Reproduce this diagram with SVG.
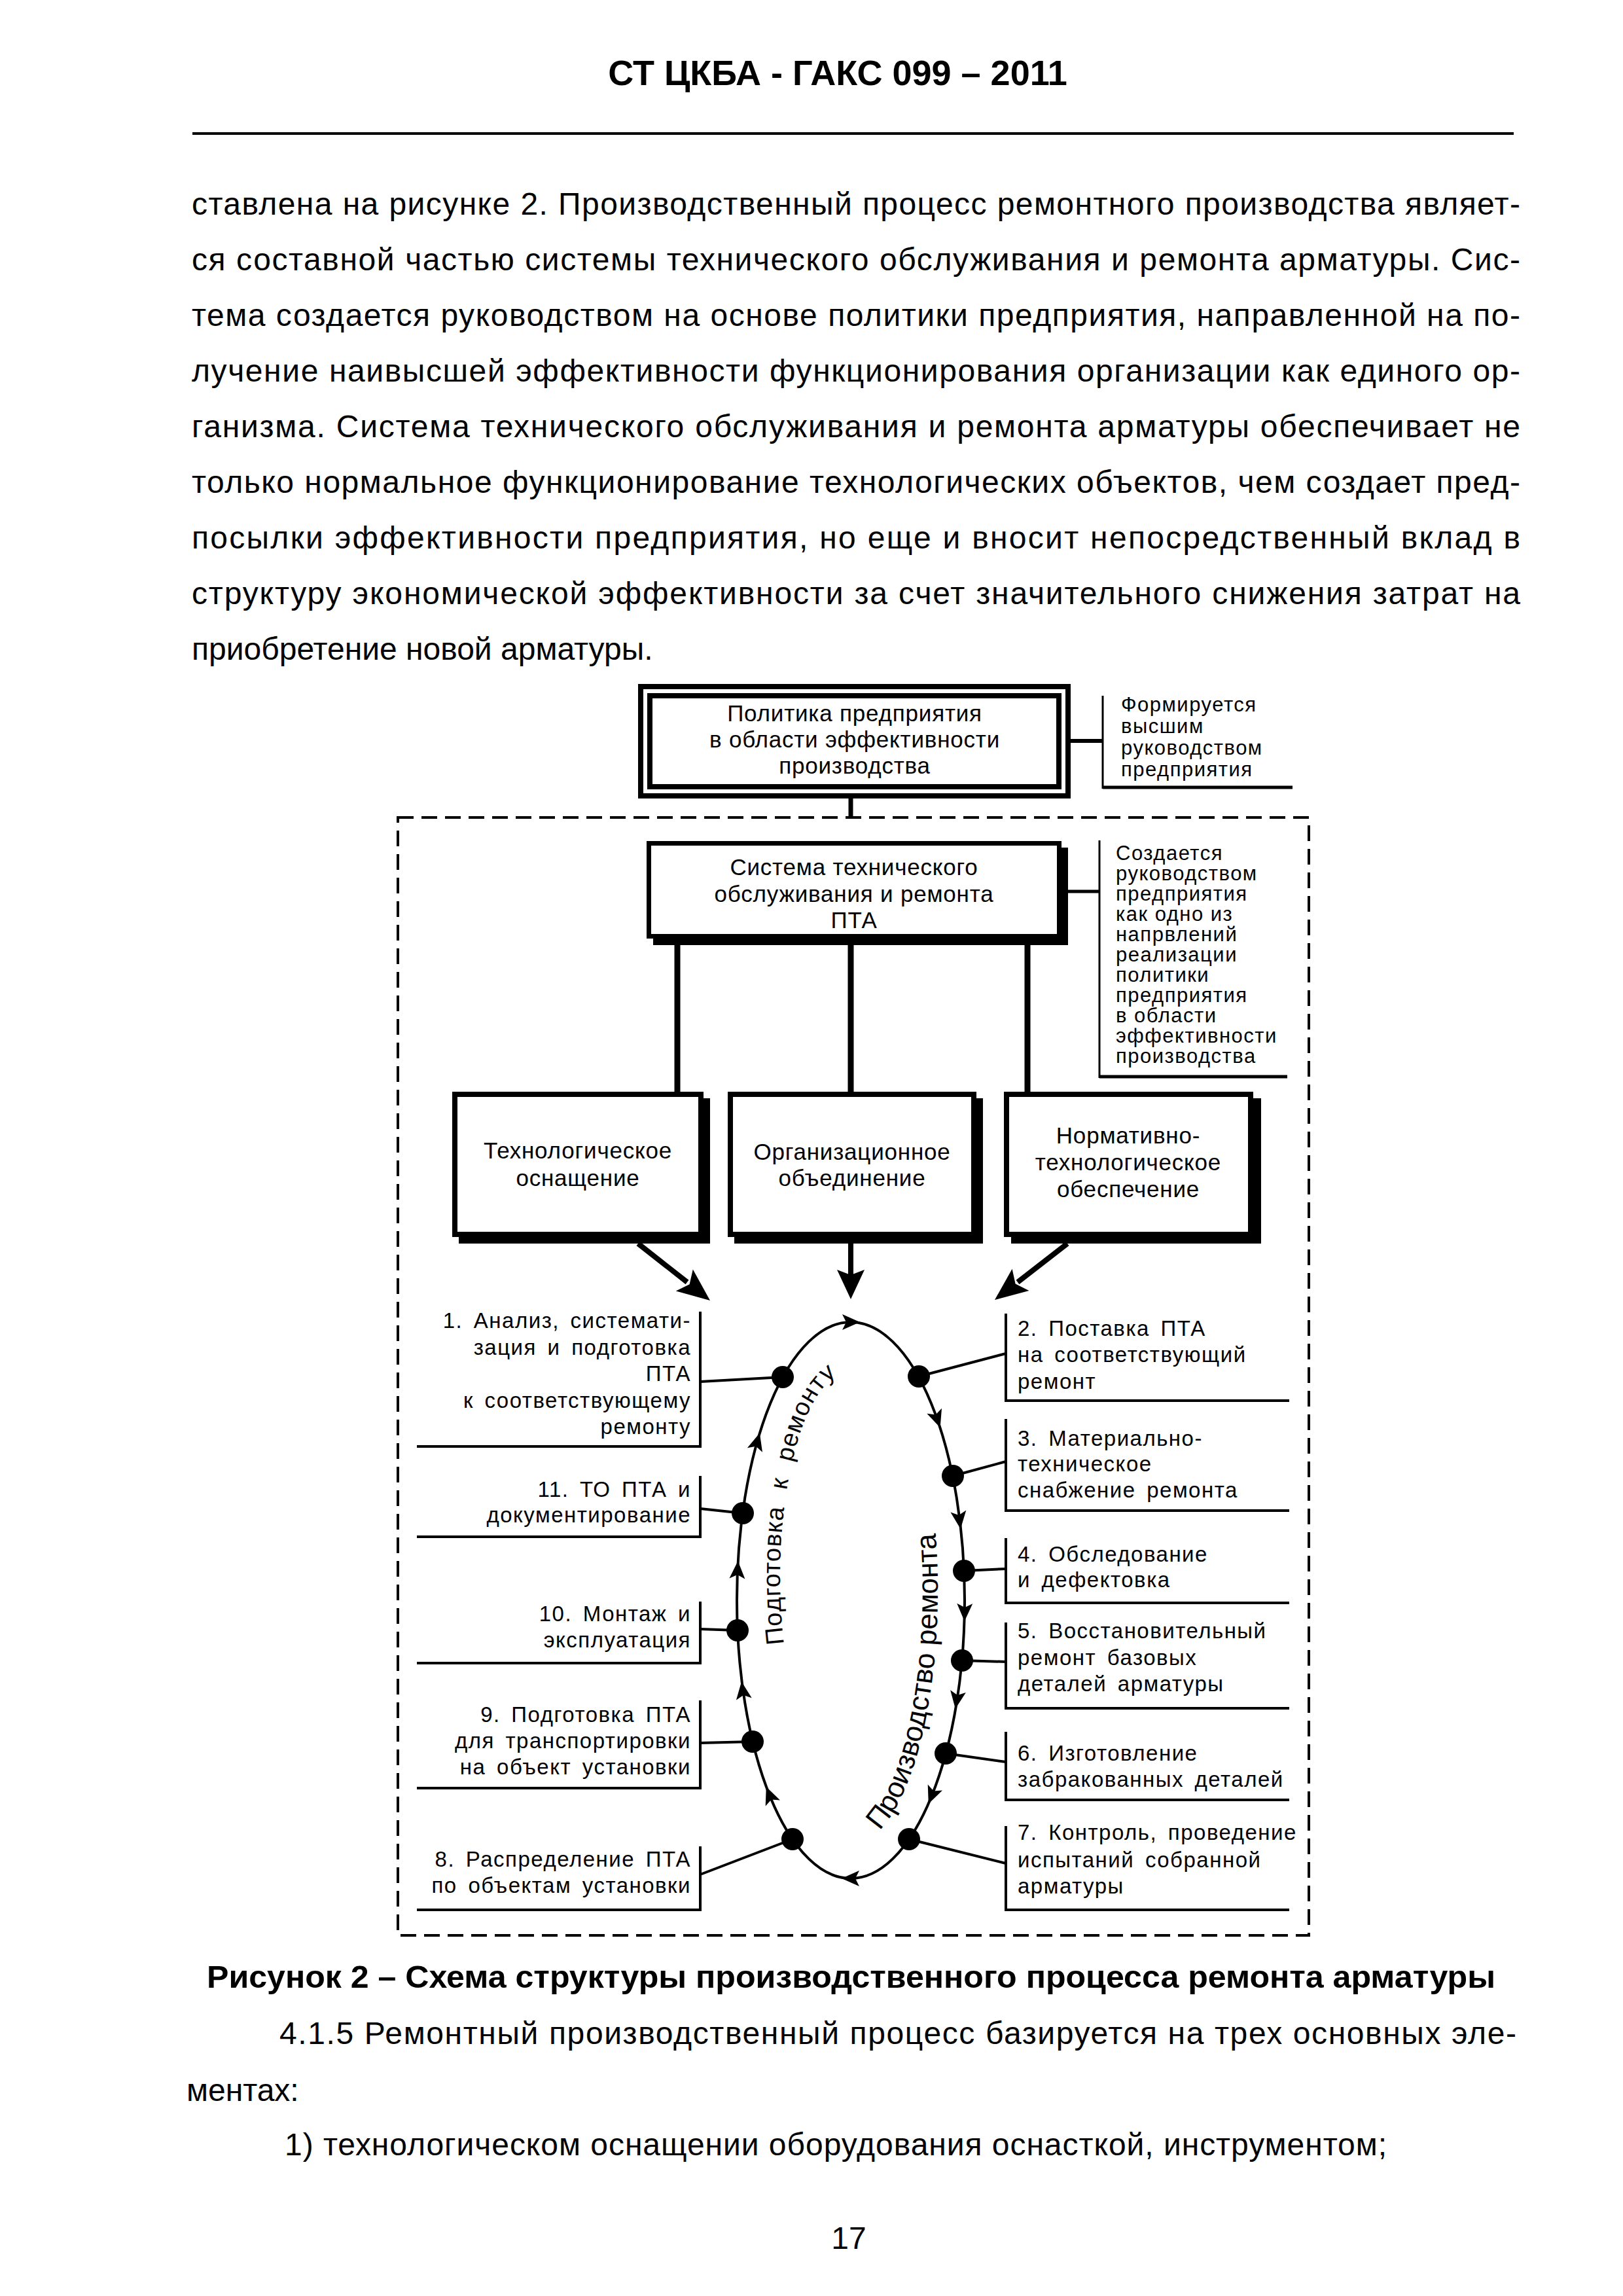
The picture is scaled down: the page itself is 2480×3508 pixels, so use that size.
<svg xmlns="http://www.w3.org/2000/svg" xmlns:xlink="http://www.w3.org/1999/xlink" width="2480" height="3508" viewBox="0 0 2480 3508">
<style>
text{font-family:"Liberation Sans",Arial,sans-serif;fill:#000}
.body{font-size:48px}
.bold{font-weight:bold}
.box{font-size:35px;text-anchor:middle;letter-spacing:0.8px}
.ann{font-size:31px;letter-spacing:1.5px}
.item{font-size:33px;letter-spacing:1.5px;word-spacing:6px}
.il{text-anchor:end}
.ln{stroke:#000;fill:none}
.bx{stroke:#000;fill:#fff}
.sh{fill:#000}
.frame{stroke:#000;stroke-width:4;fill:none}
.dot{fill:#000}
.ah{fill:#000}
</style>
<defs>
<path id="ahd" d="M14,0 L-13,-12 L-7,0 L-13,12 Z"/>
<path id="pathL" d="M1300,2725 A108,315 0 0,1 1300,2095"/>
<path id="pathR" d="M1300,2818 A133,388 0 0,0 1300,2042"/>
</defs>
<rect width="2480" height="3508" fill="#fff"/>

<g id="page-text">
<text class="bold" x="1280" y="130" font-size="54" text-anchor="middle">СТ ЦКБА - ГАКС 099 – 2011</text>
<line x1="294" y1="204" x2="2313" y2="204" stroke="#000" stroke-width="4"/>
<text class="body" x="293" y="328" textLength="2030" lengthAdjust="spacing">ставлена на рисунке 2. Производственный процесс ремонтного производства являет-</text>
<text class="body" x="293" y="413" textLength="2030" lengthAdjust="spacing">ся составной частью системы технического обслуживания  и ремонта арматуры. Сис-</text>
<text class="body" x="293" y="498" textLength="2030" lengthAdjust="spacing">тема создается руководством на основе политики предприятия, направленной на по-</text>
<text class="body" x="293" y="583" textLength="2030" lengthAdjust="spacing">лучение наивысшей эффективности функционирования организации как единого ор-</text>
<text class="body" x="293" y="668" textLength="2030" lengthAdjust="spacing">ганизма. Система технического обслуживания  и ремонта арматуры обеспечивает не</text>
<text class="body" x="293" y="753" textLength="2030" lengthAdjust="spacing">только нормальное функционирование технологических объектов, чем создает пред-</text>
<text class="body" x="293" y="838" textLength="2030" lengthAdjust="spacing">посылки эффективности предприятия, но еще и вносит непосредственный вклад в</text>
<text class="body" x="293" y="923" textLength="2030" lengthAdjust="spacing">структуру экономической эффективности за счет значительного снижения затрат на</text>
<text class="body" x="293" y="1008">приобретение новой арматуры.</text>
<text class="body bold" x="316" y="3037" textLength="1969" lengthAdjust="spacingAndGlyphs">Рисунок 2 – Схема структуры производственного процесса ремонта арматуры</text>
<text class="body" x="427" y="3123" textLength="1890" lengthAdjust="spacing">4.1.5 Ремонтный производственный процесс базируется на трех основных эле-</text>
<text class="body" x="285" y="3210">ментах:</text>
<text class="body" x="435" y="3293" textLength="1684" lengthAdjust="spacing">1) технологическом оснащении оборудования оснасткой, инструментом;</text>
<text class="body" x="1297" y="3436" text-anchor="middle">17</text>
</g>

<g id="connectors">
<rect x="608" y="1249" width="1392" height="1708" class="ln" stroke-width="4" stroke-dasharray="24 12"/>
<line x1="1300" y1="1220" x2="1300" y2="1249" class="ln" stroke-width="7"/>
<line x1="1636" y1="1132" x2="1685" y2="1132" class="ln" stroke-width="6"/>
<line x1="1632" y1="1362" x2="1680" y2="1362" class="ln" stroke-width="5"/>
<line x1="1035" y1="1444" x2="1035" y2="1668" class="ln" stroke-width="9"/>
<line x1="1300" y1="1444" x2="1300" y2="1668" class="ln" stroke-width="9"/>
<line x1="1570" y1="1444" x2="1570" y2="1668" class="ln" stroke-width="9"/>
<line x1="975" y1="1900" x2="1050" y2="1959" class="ln" stroke-width="8"/>
<polygon class="ah" points="1085,1987 1032.8,1972.5 1053.6,1962.2 1058.8,1939.5"/>
<line x1="1300" y1="1900" x2="1300" y2="1950" class="ln" stroke-width="8"/>
<polygon class="ah" points="1300,1985 1279,1940 1300,1948 1321,1940"/>
<line x1="1631" y1="1900" x2="1555" y2="1959" class="ln" stroke-width="8"/>
<polygon class="ah" points="1520,1986 1546.6,1938.8 1551.6,1961.5 1572.4,1972"/>
<ellipse cx="1300" cy="2445" rx="174" ry="425" class="ln" stroke-width="4"/>
<use xlink:href="#ahd" transform="translate(1300,2020) rotate(0)"/>
<use xlink:href="#ahd" transform="translate(1432,2168) rotate(70.6)"/>
<use xlink:href="#ahd" transform="translate(1466,2322) rotate(82.9)"/>
<use xlink:href="#ahd" transform="translate(1474,2463) rotate(91)"/>
<use xlink:href="#ahd" transform="translate(1462,2597) rotate(98.9)"/>
<use xlink:href="#ahd" transform="translate(1424,2743) rotate(111.9)"/>
<use xlink:href="#ahd" transform="translate(1300,2870) rotate(180)"/>
<use xlink:href="#ahd" transform="translate(1176,2743) rotate(-111.9)"/>
<use xlink:href="#ahd" transform="translate(1135,2583) rotate(-98)"/>
<use xlink:href="#ahd" transform="translate(1127,2399) rotate(-87.5)"/>
<use xlink:href="#ahd" transform="translate(1157,2203) rotate(-74.2)"/>
<line x1="1196" y1="2104" x2="1070" y2="2111" class="ln" stroke-width="4"/>
<line x1="1135" y1="2312" x2="1070" y2="2305" class="ln" stroke-width="4"/>
<line x1="1127" y1="2491" x2="1070" y2="2489" class="ln" stroke-width="4"/>
<line x1="1150" y1="2661" x2="1070" y2="2663" class="ln" stroke-width="4"/>
<line x1="1211" y1="2810" x2="1070" y2="2864" class="ln" stroke-width="4"/>
<line x1="1404" y1="2103" x2="1537" y2="2068" class="ln" stroke-width="4"/>
<line x1="1456" y1="2255" x2="1537" y2="2233" class="ln" stroke-width="4"/>
<line x1="1473" y1="2400" x2="1537" y2="2397" class="ln" stroke-width="4"/>
<line x1="1470" y1="2537" x2="1537" y2="2539" class="ln" stroke-width="4"/>
<line x1="1445" y1="2679" x2="1537" y2="2692" class="ln" stroke-width="4"/>
<line x1="1389" y1="2810" x2="1537" y2="2847" class="ln" stroke-width="4"/>
</g>

<g id="cycle-labels">
<text font-size="38" letter-spacing="1" word-spacing="14"><textPath xlink:href="#pathL" startOffset="250">Подготовка к ремонту</textPath></text>
<text font-size="44"><textPath xlink:href="#pathR" startOffset="50">Производство ремонта</textPath></text>
</g>

<g id="node-policy">
<rect x="979" y="1049" width="653" height="167" class="bx" stroke-width="8"/>
<rect x="993" y="1063" width="625" height="139" class="ln" stroke-width="8"/>
<text class="box" x="1306" y="1102">Политика предприятия</text>
<text class="box" x="1306" y="1142">в области эффективности</text>
<text class="box" x="1306" y="1182">производства</text>
</g>

<g id="note-policy">
<line x1="1685" y1="1063" x2="1685" y2="1205" class="ln" stroke-width="3"/>
<line x1="1685" y1="1203" x2="1975" y2="1203" class="ln" stroke-width="5"/>
<text class="ann" x="1713" y="1087">Формируется</text>
<text class="ann" x="1713" y="1120">высшим</text>
<text class="ann" x="1713" y="1153">руководством</text>
<text class="ann" x="1713" y="1186">предприятия</text>
</g>

<g id="node-system">
<rect x="998" y="1295" width="634" height="149" class="sh"/>
<rect x="991.5" y="1288.5" width="627" height="142" class="bx" stroke-width="7"/>
<text class="box" x="1305" y="1337">Система технического</text>
<text class="box" x="1305" y="1378">обслуживания и ремонта</text>
<text class="box" x="1305" y="1418">ПТА</text>
</g>

<g id="note-system">
<line x1="1680" y1="1284" x2="1680" y2="1647" class="ln" stroke-width="3"/>
<line x1="1680" y1="1645" x2="1967" y2="1645" class="ln" stroke-width="5"/>
<text class="ann" x="1705" y="1314">Создается</text>
<text class="ann" x="1705" y="1345">руководством</text>
<text class="ann" x="1705" y="1376">предприятия</text>
<text class="ann" x="1705" y="1407">как одно из</text>
<text class="ann" x="1705" y="1438">напрвлений</text>
<text class="ann" x="1705" y="1469">реализации</text>
<text class="ann" x="1705" y="1500">политики</text>
<text class="ann" x="1705" y="1531">предприятия</text>
<text class="ann" x="1705" y="1562">в области</text>
<text class="ann" x="1705" y="1593">эффективности</text>
<text class="ann" x="1705" y="1624">производства</text>
</g>

<g id="node-tech">
<rect x="701" y="1678" width="384" height="222" class="sh"/>
<rect x="695" y="1672" width="376" height="214" class="bx" stroke-width="8"/>
<text class="box" x="883" y="1770">Технологическое</text>
<text class="box" x="883" y="1812">оснащение</text>
</g>

<g id="node-org">
<rect x="1122" y="1678" width="380" height="222" class="sh"/>
<rect x="1116" y="1672" width="372" height="214" class="bx" stroke-width="8"/>
<text class="box" x="1302" y="1772">Организационное</text>
<text class="box" x="1302" y="1812">объединение</text>
</g>

<g id="node-norm">
<rect x="1545" y="1678" width="382" height="222" class="sh"/>
<rect x="1538" y="1672" width="373" height="214" class="bx" stroke-width="8"/>
<text class="box" x="1724" y="1747">Нормативно-</text>
<text class="box" x="1724" y="1788">технологическое</text>
<text class="box" x="1724" y="1829">обеспечение</text>
</g>

<g id="dots">
<circle class="dot" cx="1196" cy="2104" r="17"/>
<circle class="dot" cx="1135" cy="2312" r="17"/>
<circle class="dot" cx="1127" cy="2491" r="17"/>
<circle class="dot" cx="1150" cy="2661" r="17"/>
<circle class="dot" cx="1211" cy="2810" r="17"/>
<circle class="dot" cx="1404" cy="2103" r="17"/>
<circle class="dot" cx="1456" cy="2255" r="17"/>
<circle class="dot" cx="1473" cy="2400" r="17"/>
<circle class="dot" cx="1470" cy="2537" r="17"/>
<circle class="dot" cx="1445" cy="2679" r="17"/>
<circle class="dot" cx="1389" cy="2810" r="17"/>
</g>

<g id="item-1">
<path class="frame" d="M1070,2004 V2212 M637,2210 H1072"/>
<text class="item il" x="1056" y="2029">1. Анализ, системати-</text>
<text class="item il" x="1056" y="2070">зация и подготовка</text>
<text class="item il" x="1056" y="2110">ПТА</text>
<text class="item il" x="1056" y="2151">к соответствующему</text>
<text class="item il" x="1056" y="2191">ремонту</text>
</g>
<g id="item-11">
<path class="frame" d="M1070,2255 V2350 M637,2348 H1072"/>
<text class="item il" x="1056" y="2287">11. ТО ПТА и</text>
<text class="item il" x="1056" y="2326">документирование</text>
</g>
<g id="item-10">
<path class="frame" d="M1070,2447 V2543 M637,2541 H1072"/>
<text class="item il" x="1056" y="2477">10. Монтаж и</text>
<text class="item il" x="1056" y="2517">эксплуатация</text>
</g>
<g id="item-9">
<path class="frame" d="M1070,2598 V2734 M637,2732 H1072"/>
<text class="item il" x="1056" y="2631">9. Подготовка ПТА</text>
<text class="item il" x="1056" y="2671">для транспортировки</text>
<text class="item il" x="1056" y="2711">на объект установки</text>
</g>
<g id="item-8">
<path class="frame" d="M1070,2821 V2920 M637,2918 H1072"/>
<text class="item il" x="1056" y="2852">8. Распределение ПТА</text>
<text class="item il" x="1056" y="2892">по объектам установки</text>
</g>
<g id="item-2">
<path class="frame" d="M1537,2007 V2142 M1535,2140 H1970"/>
<text class="item" x="1555" y="2041">2. Поставка ПТА</text>
<text class="item" x="1555" y="2081">на соответствующий</text>
<text class="item" x="1555" y="2122">ремонт</text>
</g>
<g id="item-3">
<path class="frame" d="M1537,2168 V2310 M1535,2308 H1970"/>
<text class="item" x="1555" y="2209">3. Материально-</text>
<text class="item" x="1555" y="2248">техническое</text>
<text class="item" x="1555" y="2288">снабжение ремонта</text>
</g>
<g id="item-4">
<path class="frame" d="M1537,2350 V2451 M1535,2449 H1970"/>
<text class="item" x="1555" y="2386">4. Обследование</text>
<text class="item" x="1555" y="2425">и дефектовка</text>
</g>
<g id="item-5">
<path class="frame" d="M1537,2479 V2612 M1535,2610 H1970"/>
<text class="item" x="1555" y="2503">5. Восстановительный</text>
<text class="item" x="1555" y="2544">ремонт базовых</text>
<text class="item" x="1555" y="2584">деталей арматуры</text>
</g>
<g id="item-6">
<path class="frame" d="M1537,2646 V2752 M1535,2750 H1970"/>
<text class="item" x="1555" y="2690">6. Изготовление</text>
<text class="item" x="1555" y="2730">забракованных деталей</text>
</g>
<g id="item-7">
<path class="frame" d="M1537,2790 V2920 M1535,2918 H1970"/>
<text class="item" x="1555" y="2811">7. Контроль, проведение</text>
<text class="item" x="1555" y="2853">испытаний собранной</text>
<text class="item" x="1555" y="2893">арматуры</text>
</g>
</svg>
